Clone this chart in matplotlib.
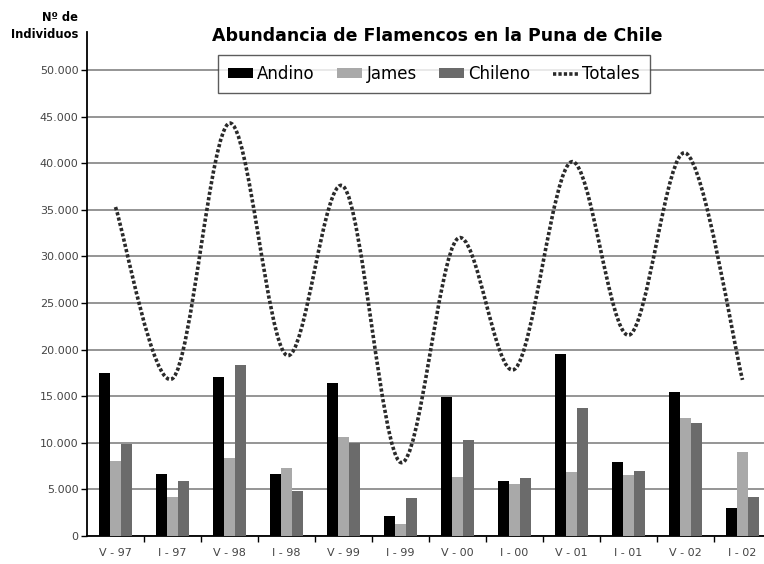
import matplotlib
matplotlib.use("Agg")
import matplotlib.pyplot as plt
from matplotlib.path import Path
from matplotlib.patches import PathPatch, Patch
from matplotlib.lines import Line2D
from matplotlib.ticker import FuncFormatter
import numpy as np

# Census periods (V = verano, I = invierno)
periodos = ["V - 97", "I - 97", "V - 98", "I - 98", "V - 99", "I - 99",
            "V - 00", "I - 00", "V - 01", "I - 01", "V - 02", "I - 02"]

andino = [17500, 6700, 17100, 6650, 16400, 2150, 14950, 5900, 19500, 7900, 15400, 3050]
james = [8000, 4200, 8400, 7300, 10600, 1300, 6300, 5550, 6900, 6550, 12700, 9050]
chileno = [9900, 5900, 18400, 4800, 9950, 4050, 10300, 6250, 13700, 7000, 12100, 4200]
totales = [35300, 16900, 44300, 19400, 37500, 7900, 31900, 17900, 40150, 21550, 41100, 16750]

yticks = [0, 5000, 10000, 15000, 20000, 25000, 30000, 35000, 40000, 45000, 50000]

C_ANDINO = "#000000"
C_JAMES = "#a9a9a9"
C_CHILENO = "#6b6b6b"
C_LINE = "#2a2a2a"

plt.rcParams["font.family"] = ["DejaVu Sans"]

fig = plt.figure(figsize=(7.64, 5.64), dpi=100)
ax = fig.add_axes([87 / 764, 1 - 536 / 564, (771 - 87) / 764, (536 - 32) / 564])

x = np.arange(len(periodos))
w = 0.193
ax.bar(x - w, andino, w, color=C_ANDINO, zorder=3)
ax.bar(x, james, w, color=C_JAMES, zorder=3)
ax.bar(x + w, chileno, w, color=C_CHILENO, zorder=3)


def smooth_path(xs, ys):
    """Catmull-Rom style cubic Bezier path through the points."""
    pts = np.column_stack([xs, ys]).astype(float)
    n = len(pts)
    verts = [pts[0]]
    codes = [Path.MOVETO]
    for i in range(n - 1):
        p0 = pts[i - 1] if i > 0 else pts[i]
        p1 = pts[i]
        p2 = pts[i + 1]
        p3 = pts[i + 2] if i + 2 < n else pts[i + 1]
        c1 = p1 + (p2 - p0) / 6.0
        c2 = p2 - (p3 - p1) / 6.0
        verts += [c1, c2, p2]
        codes += [Path.CURVE4] * 3
    return Path(verts, codes)


dots = (0, (0.9, 0.6))
line_patch = PathPatch(smooth_path(x, totales), facecolor="none", edgecolor=C_LINE,
                       linewidth=2.6, linestyle=dots, zorder=4, capstyle="butt")
ax.add_patch(line_patch)

ax.set_xlim(-0.5, len(periodos) - 0.5)
ax.set_ylim(0, 54080)
ax.set_yticks(yticks)
ax.yaxis.set_major_formatter(FuncFormatter(lambda v, p: f"{int(v):,}".replace(",", ".")))
ax.grid(axis="y", color="#8c8c8c", linewidth=1.3, zorder=0)
ax.set_axisbelow(True)

ax.set_xticks(x)
ax.set_xticklabels(periodos)
ax.set_xticks(np.arange(0.5, len(periodos) - 0.5, 1), minor=True)
ax.tick_params(axis="x", which="major", length=0, pad=9, labelsize=8, colors="#444444")
ax.tick_params(axis="x", which="minor", length=4, width=1, color="black")
ax.tick_params(axis="y", which="major", length=4, width=1, labelsize=8,
               labelcolor="#444444", pad=2)

for s in ["top", "right"]:
    ax.spines[s].set_visible(False)
for s in ["left", "bottom"]:
    ax.spines[s].set_linewidth(1.3)
    ax.spines[s].set_color("black")

fig.text(437 / 764, 1 - 36 / 564, "Abundancia de Flamencos en la Puna de Chile",
         ha="center", va="center", fontsize=12.5, fontweight="bold")
fig.text(78 / 764, 1 - 26 / 564, "Nº de\nIndividuos", ha="right", va="center",
         fontsize=8.3, fontweight="bold", linespacing=1.45)

handles = [Patch(facecolor=C_ANDINO), Patch(facecolor=C_JAMES), Patch(facecolor=C_CHILENO),
           Line2D([], [], color=C_LINE, linewidth=2.6, linestyle=dots)]
labels = ["Andino", "James", "Chileno", "Totales"]
leg = fig.legend(handles, labels, loc="center", bbox_to_anchor=(434 / 764, 1 - 74 / 564),
                 ncol=4, frameon=True, fancybox=False, edgecolor="#333333",
                 fontsize=12, handlelength=1.5, handleheight=0.55, handletextpad=0.25,
                 columnspacing=1.35, borderpad=0.6)
leg.get_frame().set_linewidth(1.0)
leg.set_zorder(10)

fig.savefig("out.png", dpi=100, facecolor="white")
